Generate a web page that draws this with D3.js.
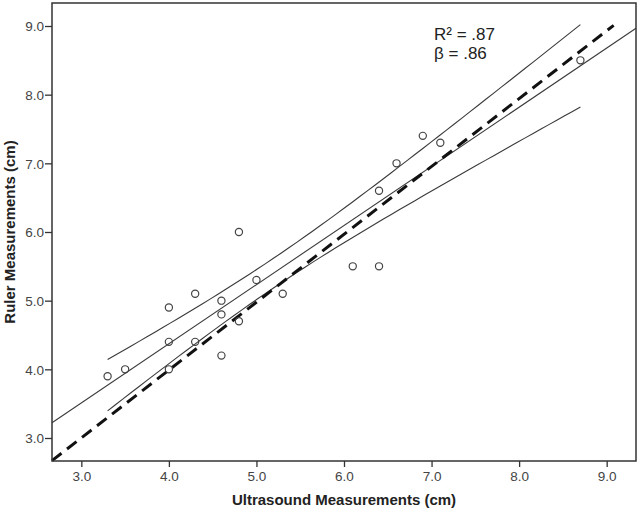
<!DOCTYPE html>
<html>
<head>
<meta charset="utf-8">
<script src="https://cdn.jsdelivr.net/npm/d3@7"></script>
<style>
  body { margin: 0; background: #fff; }
  svg { display: block; font-family: "Liberation Sans", Arial, sans-serif; }
</style>
</head>
<body>
<svg id="main-svg" width="640" height="518"></svg>
<script>
// ultrasound (x) vs ruler (y) measurements, cm
const ultrasound = [3.3, 3.5, 4.0, 4.0, 4.0, 4.3, 4.3, 4.6, 4.6, 4.6, 4.8, 4.8, 5.0, 5.3, 6.1, 6.4, 6.4, 6.6, 6.9, 7.1, 8.7];
const ruler      = [3.9, 4.0, 4.9, 4.4, 4.0, 5.1, 4.4, 5.0, 4.8, 4.2, 4.7, 6.0, 5.3, 5.1, 5.5, 5.5, 6.6, 7.0, 7.4, 7.3, 8.5];

const xTicks = [3, 4, 5, 6, 7, 8, 9];
const yTicks = [3, 4, 5, 6, 7, 8, 9];
const statLines = ["R\u00b2 = .87", "\u03b2 = .86"];
// dashed reference line
const refLine = [[2.665, 2.67], [9.08, 9.01]];
const tCrit = 2.093;        // t(19), 95%

const svg = d3.select('#main-svg');
const margin = { left: 52, top: 3, right: 4, bottom: 57 };
const W = 640, H = 518;

const x = d3.scaleLinear().domain([2.665, 9.335]).range([margin.left, W - margin.right]);
const y = d3.scaleLinear().domain([2.665, 9.335]).range([H - margin.bottom, margin.top]);

const points = ultrasound.map((u, i) => ({ x: u, y: ruler[i] }));

// least squares fit + 95% CI of the mean
const n = points.length;
const mx = d3.mean(points, d => d.x), my = d3.mean(points, d => d.y);
const sxx = d3.sum(points, d => (d.x - mx) ** 2);
const sxy = d3.sum(points, d => (d.x - mx) * (d.y - my));
const slope = sxy / sxx, intercept = my - slope * mx;
const sse = d3.sum(points, d => (d.y - intercept - slope * d.x) ** 2);
const s = Math.sqrt(sse / (n - 2));
const half = v => tCrit * s * Math.sqrt(1 / n + (v - mx) ** 2 / sxx);

const xs = d3.range(0, 61).map(i => d3.min(ultrasound) + i * (d3.max(ultrasound) - d3.min(ultrasound)) / 60);
const upper = xs.map(v => [v, intercept + slope * v + half(v)]);
const lower = xs.map(v => [v, intercept + slope * v - half(v)]);

const line = d3.line().x(d => x(d[0])).y(d => y(d[1]));

const plot = svg.append('g');

// axes
const xAxis = svg.append('g')
    .attr('transform', `translate(0,${H - margin.bottom})`)
    .call(d3.axisBottom(x).tickValues(xTicks).tickFormat(d3.format('.1f')).tickSize(6).tickPadding(4));
const yAxis = svg.append('g')
    .attr('transform', `translate(${margin.left},0)`)
    .call(d3.axisLeft(y).tickValues(yTicks).tickFormat(d3.format('.1f')).tickSize(7).tickPadding(1));

[xAxis, yAxis].forEach(a => {
    a.select('.domain').remove();
    a.selectAll('line').attr('stroke', '#333').attr('stroke-width', 1.3);
    a.selectAll('text').attr('fill', '#444').style('font-size', '13.5px').style('font-family', '"Liberation Sans", Arial, sans-serif');
});
yAxis.selectAll('text').attr('dy', '0.36em');

// frame
svg.append('rect')
    .attr('x', margin.left).attr('y', margin.top)
    .attr('width', W - margin.left - margin.right)
    .attr('height', H - margin.top - margin.bottom)
    .attr('fill', 'none').attr('stroke', '#333').attr('stroke-width', 1.5);

// fit line across full x range
plot.append('path')
    .attr('d', line([[x.domain()[0], intercept + slope * x.domain()[0]], [x.domain()[1], intercept + slope * x.domain()[1]]]))
    .attr('fill', 'none').attr('stroke', '#3a3a3a').attr('stroke-width', 1.1);

plot.selectAll('path.ci')
    .data([upper, lower])
    .enter().append('path')
    .attr('class', 'ci')
    .attr('d', line)
    .attr('fill', 'none').attr('stroke', '#3a3a3a').attr('stroke-width', 1.1);

// reference line
plot.append('path')
    .attr('d', line(refLine))
    .attr('fill', 'none').attr('stroke', '#111').attr('stroke-width', 3)
    .attr('stroke-dasharray', '12,7');

// points
plot.selectAll('circle')
    .data(points)
    .enter().append('circle')
    .attr('cx', d => x(d.x))
    .attr('cy', d => y(d.y))
    .attr('r', 3.6)
    .attr('fill', 'none')
    .attr('stroke', '#444')
    .attr('stroke-width', 1.2);

// stats
svg.append('text')
    .attr('x', 434).attr('y', 40)
    .attr('fill', '#222').style('font-size', '17px')
    .selectAll('tspan')
    .data(statLines)
    .enter().append('tspan')
    .attr('x', 434)
    .attr('dy', (d, i) => i === 0 ? 0 : 19)
    .text(d => d);

// axis titles
svg.append('text')
    .attr('x', (margin.left + W - margin.right) / 2).attr('y', 505)
    .attr('text-anchor', 'middle')
    .attr('fill', '#222').style('font-size', '15px').style('font-weight', 'bold')
    .text('Ultrasound Measurements (cm)');

svg.append('text')
    .attr('transform', `translate(15,${(margin.top + H - margin.bottom) / 2}) rotate(-90)`)
    .attr('text-anchor', 'middle')
    .attr('fill', '#222').style('font-size', '15px').style('font-weight', 'bold')
    .text('Ruler Measurements (cm)');
</script>
</body>
</html>
